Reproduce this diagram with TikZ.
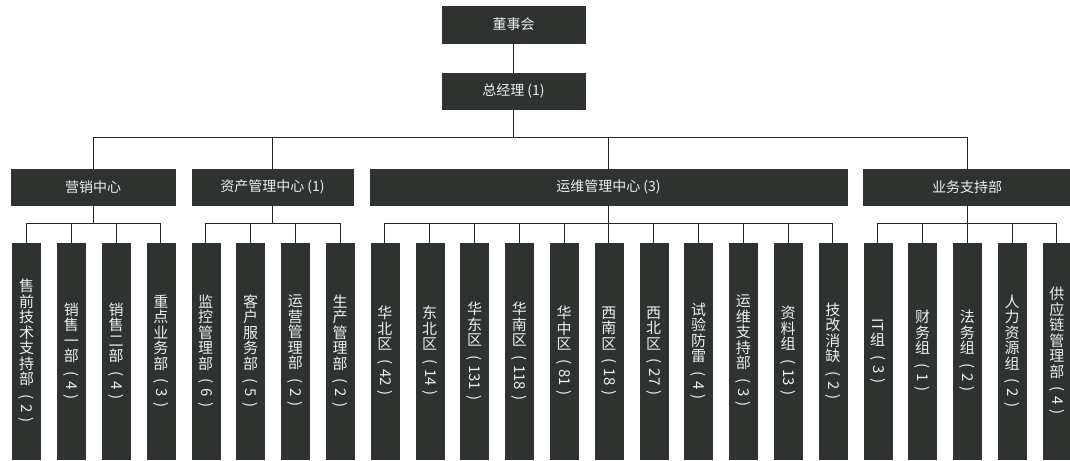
\documentclass[tikz,border=0pt]{standalone}
\usepackage[]{color}
\usepackage{tikz}
\usetikzlibrary{shapes}
\usepackage{fontspec}
\setmainfont{Noto Sans CJK SC}
\definecolor{boxgray}{HTML}{2E332F}
\definecolor{txtwhite}{HTML}{EEEEEE}

\begin{document}
\begin{tikzpicture}[
lvl/.style={draw=boxgray,fill=boxgray,text=txtwhite,minimum height=36bp,inner sep=0pt,font=\fontsize{14bp}{15bp}\selectfont},
leaf/.style={draw=boxgray,fill=boxgray,text=txtwhite,minimum width=28bp,minimum height=216bp,inner sep=0pt,align=center,font=\fontsize{15bp}{15.5bp}\selectfont},
conn/.style={line width=1bp,black!85}]

\useasboundingbox (0bp,0bp) rectangle (1070bp,-461bp);

\node (D0) at (513.5bp,-24.5bp)[lvl,minimum width=143bp,minimum height=37bp] {董事会};
\node (Z0) at (513.5bp,-91bp)[lvl,minimum width=143bp] {总经理 (1)};
\node (C1) at (93bp,-187bp)[lvl,minimum width=164bp] {营销中心};
\node (C2) at (272.5bp,-187bp)[lvl,minimum width=161bp] {资产管理中心 (1)};
\node (C3) at (608.5bp,-187bp)[lvl,minimum width=477bp] {运维管理中心 (3)};
\node (C4) at (967bp,-187bp)[lvl,minimum width=208bp] {业务支持部};

\node (L11) at (26.5bp,-351bp)[leaf] {售\\前\\技\\术\\支\\持\\部\\[-6bp]\rotatebox{-90}{(\kern5bp 2\kern5bp)}};
\node (L12) at (71.3bp,-351bp)[leaf] {销\\售\\一\\部\\[-6bp]\rotatebox{-90}{(\kern5bp 4\kern5bp)}};
\node (L13) at (116.1bp,-351bp)[leaf] {销\\售\\二\\部\\[-6bp]\rotatebox{-90}{(\kern5bp 4\kern5bp)}};
\node (L14) at (160.9bp,-351bp)[leaf] {重\\点\\业\\务\\部\\[-6bp]\rotatebox{-90}{(\kern5bp 3\kern5bp)}};
\node (L21) at (205.7bp,-351bp)[leaf] {监\\控\\管\\理\\部\\[-6bp]\rotatebox{-90}{(\kern5bp 6\kern5bp)}};
\node (L22) at (250.5bp,-351bp)[leaf] {客\\户\\服\\务\\部\\[-6bp]\rotatebox{-90}{(\kern5bp 5\kern5bp)}};
\node (L23) at (295.3bp,-351bp)[leaf] {运\\营\\管\\理\\部\\[-6bp]\rotatebox{-90}{(\kern5bp 2\kern5bp)}};
\node (L24) at (340.1bp,-351bp)[leaf] {生\\产\\管\\理\\部\\[-6bp]\rotatebox{-90}{(\kern5bp 2\kern5bp)}};
\node (L31) at (384.9bp,-351bp)[leaf] {华\\北\\区\\[-6bp]\rotatebox{-90}{(\kern5bp 42\kern5bp)}};
\node (L32) at (429.7bp,-351bp)[leaf] {东\\北\\区\\[-6bp]\rotatebox{-90}{(\kern5bp 14\kern5bp)}};
\node (L33) at (474.5bp,-351bp)[leaf] {华\\东\\区\\[-6bp]\rotatebox{-90}{(\kern5bp 131\kern5bp)}};
\node (L34) at (519.3bp,-351bp)[leaf] {华\\南\\区\\[-6bp]\rotatebox{-90}{(\kern5bp 118\kern5bp)}};
\node (L35) at (564.1bp,-351bp)[leaf] {华\\中\\区\\[-6bp]\rotatebox{-90}{(\kern5bp 81\kern5bp)}};
\node (L36) at (608.9bp,-351bp)[leaf] {西\\南\\区\\[-6bp]\rotatebox{-90}{(\kern5bp 18\kern5bp)}};
\node (L37) at (653.7bp,-351bp)[leaf] {西\\北\\区\\[-6bp]\rotatebox{-90}{(\kern5bp 27\kern5bp)}};
\node (L38) at (698.5bp,-351bp)[leaf] {试\\验\\防\\雷\\[-6bp]\rotatebox{-90}{(\kern5bp 4\kern5bp)}};
\node (L39) at (743.3bp,-351bp)[leaf] {运\\维\\支\\持\\部\\[-6bp]\rotatebox{-90}{(\kern5bp 3\kern5bp)}};
\node (L310) at (788.1bp,-351bp)[leaf] {资\\料\\组\\[-6bp]\rotatebox{-90}{(\kern5bp 13\kern5bp)}};
\node (L311) at (832.9bp,-351bp)[leaf] {技\\改\\消\\缺\\[-6bp]\rotatebox{-90}{(\kern5bp 2\kern5bp)}};
\node (L41) at (877.7bp,-351bp)[leaf] {\rotatebox{-90}{IT}\\组\\[-6bp]\rotatebox{-90}{(\kern5bp 3\kern5bp)}};
\node (L42) at (922.5bp,-351bp)[leaf] {财\\务\\组\\[-6bp]\rotatebox{-90}{(\kern5bp 1\kern5bp)}};
\node (L43) at (967.3bp,-351bp)[leaf] {法\\务\\组\\[-6bp]\rotatebox{-90}{(\kern5bp 2\kern5bp)}};
\node (L44) at (1012.1bp,-351bp)[leaf] {人\\力\\资\\源\\组\\[-6bp]\rotatebox{-90}{(\kern5bp 2\kern5bp)}};
\node (L45) at (1056.9bp,-351bp)[leaf] {供\\应\\链\\管\\理\\部\\[-6bp]\rotatebox{-90}{(\kern5bp 4\kern5bp)}};

\draw [conn] (D0) -- (Z0);
\draw [conn] (Z0.south) -- ++(0,-28bp) -| (C1.north);
\draw [conn] (Z0.south) -- ++(0,-28bp) -| (C2.north);
\draw [conn] (Z0.south) -- ++(0,-28bp) -| (C3.north);
\draw [conn] (Z0.south) -- ++(0,-28bp) -| (C4.north);
\draw [conn] (C1.south) -- ++(0,-18bp) -| (L11.north);
\draw [conn] (C1.south) -- ++(0,-18bp) -| (L12.north);
\draw [conn] (C1.south) -- ++(0,-18bp) -| (L13.north);
\draw [conn] (C1.south) -- ++(0,-18bp) -| (L14.north);
\draw [conn] (C2.south) -- ++(0,-18bp) -| (L21.north);
\draw [conn] (C2.south) -- ++(0,-18bp) -| (L22.north);
\draw [conn] (C2.south) -- ++(0,-18bp) -| (L23.north);
\draw [conn] (C2.south) -- ++(0,-18bp) -| (L24.north);
\draw [conn] (C3.south) -- ++(0,-18bp) -| (L31.north);
\draw [conn] (C3.south) -- ++(0,-18bp) -| (L32.north);
\draw [conn] (C3.south) -- ++(0,-18bp) -| (L33.north);
\draw [conn] (C3.south) -- ++(0,-18bp) -| (L34.north);
\draw [conn] (C3.south) -- ++(0,-18bp) -| (L35.north);
\draw [conn] (C3.south) -- ++(0,-18bp) -| (L36.north);
\draw [conn] (C3.south) -- ++(0,-18bp) -| (L37.north);
\draw [conn] (C3.south) -- ++(0,-18bp) -| (L38.north);
\draw [conn] (C3.south) -- ++(0,-18bp) -| (L39.north);
\draw [conn] (C3.south) -- ++(0,-18bp) -| (L310.north);
\draw [conn] (C3.south) -- ++(0,-18bp) -| (L311.north);
\draw [conn] (C4.south) -- ++(0,-18bp) -| (L41.north);
\draw [conn] (C4.south) -- ++(0,-18bp) -| (L42.north);
\draw [conn] (C4.south) -- ++(0,-18bp) -| (L43.north);
\draw [conn] (C4.south) -- ++(0,-18bp) -| (L44.north);
\draw [conn] (C4.south) -- ++(0,-18bp) -| (L45.north);
\end{tikzpicture}
\end{document}
